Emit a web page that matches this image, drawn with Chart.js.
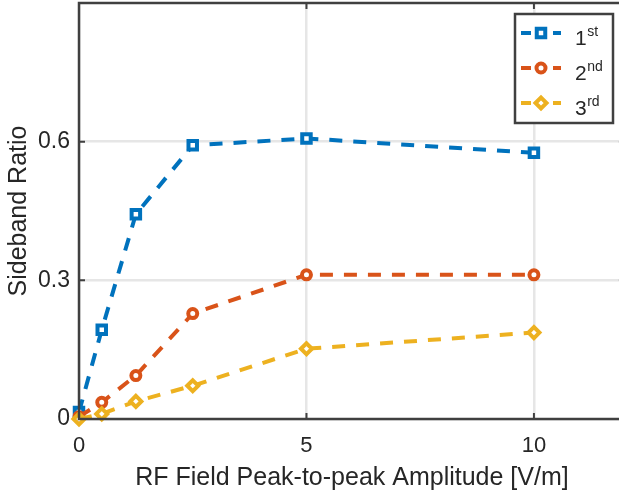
<!DOCTYPE html>
<html>
<head>
<meta charset="utf-8">
<script src="https://cdn.jsdelivr.net/npm/chart.js@4"></script>
<style>
  html, body { margin: 0; padding: 0; background: #fff; overflow: hidden; }
</style>
</head>
<body>
<canvas id="chart" width="619" height="495"></canvas>
<script>
// ===== DATA =====
const amplitudes = [0, 0.5, 1.25, 2.5, 5, 10];
const firstOrder  = [0.015, 0.193, 0.443, 0.592, 0.607, 0.576];
const secondOrder = [0.005, 0.036, 0.094, 0.228, 0.312, 0.312];
const thirdOrder  = [0.000, 0.011, 0.038, 0.072, 0.152, 0.187];

const seriesNames = ['1', '2', '3'];
const seriesSups  = ['st', 'nd', 'rd'];
const xTicks = [0, 5, 10];
const yTicks = [0, 0.3, 0.6];

const xTitle = 'RF Field Peak-to-peak Amplitude [V/m]';
const yTitle = 'Sideband Ratio';

// the axis runs to 12, the picture is cut just before it
const X_LIMIT = 12;
const X_VISIBLE = 11.87;

// ===== STYLE =====
const COLORS = ['#0072BD', '#D95319', '#EDB120'];
const POINT_STYLES = ['rect', 'circle', 'rectRot'];
const POINT_RADIUS = [6, 4.5, 5.5];
const AXIS = '#404040';
const TEXT = '#262626';
const GRID = '#e6e6e6';
const FONT = '"Liberation Sans", Arial, Helvetica, sans-serif';
const DASH = [13, 11];

function toPoints(ys) {
  return amplitudes.map((x, i) => ({ x, y: ys[i] }));
}

function makeSet(i, ys) {
  return {
    label: seriesNames[i] + seriesSups[i],
    data: toPoints(ys),
    borderColor: COLORS[i],
    borderWidth: 4,
    borderDash: DASH,
    pointStyle: POINT_STYLES[i],
    pointRadius: POINT_RADIUS[i],
    pointBorderWidth: 4,
    pointBorderColor: COLORS[i],
    pointBackgroundColor: '#fff',
    tension: 0,
    fill: false,
    clip: false,
    order: 3 - i,
  };
}

// ===== FRAME, INNER TICKS, TITLES, LEGEND =====
const framePlugin = {
  id: 'frame',
  afterDraw(chart) {
    const { ctx, chartArea: a, scales } = chart;
    ctx.save();
    // inward ticks on all sides
    ctx.strokeStyle = AXIS;
    ctx.lineWidth = 2;
    const tl = 6;
    xTicks.forEach(v => {
      const px = scales.x.getPixelForValue(v);
      ctx.beginPath();
      ctx.moveTo(px, a.bottom); ctx.lineTo(px, a.bottom - tl);
      ctx.moveTo(px, a.top); ctx.lineTo(px, a.top + tl);
      ctx.stroke();
    });
    const xEnd = scales.x.getPixelForValue(X_LIMIT);
    yTicks.forEach(v => {
      const py = scales.y.getPixelForValue(v);
      ctx.beginPath();
      ctx.moveTo(a.left, py); ctx.lineTo(a.left + tl, py);
      ctx.moveTo(xEnd, py); ctx.lineTo(xEnd - tl, py);
      ctx.stroke();
    });
    // box
    ctx.lineWidth = 2.5;
    ctx.strokeRect(a.left, a.top, xEnd - a.left, a.bottom - a.top);

    // x title
    ctx.fillStyle = TEXT;
    ctx.textAlign = 'center';
    ctx.textBaseline = 'alphabetic';
    ctx.font = '25px ' + FONT;
    ctx.fillText(xTitle, (a.left + xEnd) / 2, 485);

    // y title
    ctx.translate(26, (a.top + a.bottom) / 2);
    ctx.rotate(-Math.PI / 2);
    ctx.fillText(yTitle, 0, 0);
    ctx.restore();

    // legend
    ctx.save();
    const lx = 515, ly = 14, lw = 98, lh = 109;
    ctx.fillStyle = '#fff';
    ctx.fillRect(lx, ly, lw, lh);
    ctx.strokeStyle = AXIS;
    ctx.lineWidth = 2.5;
    ctx.strokeRect(lx, ly, lw, lh);
    chart.data.datasets.forEach((ds, i) => {
      const ry = 33 + i * 35;
      ctx.strokeStyle = ds.borderColor;
      ctx.lineWidth = ds.borderWidth;
      ctx.setLineDash([10, 6]);
      ctx.beginPath();
      ctx.moveTo(521, ry); ctx.lineTo(561, ry);
      ctx.stroke();
      ctx.setLineDash([]);
      ctx.fillStyle = '#fff';
      ctx.lineWidth = ds.pointBorderWidth;
      Chart.helpers.drawPoint(ctx, {
        pointStyle: ds.pointStyle, radius: ds.pointRadius,
        borderWidth: ds.pointBorderWidth, rotation: 0,
      }, 541, ry);
      ctx.fillStyle = TEXT;
      ctx.textAlign = 'left';
      ctx.textBaseline = 'alphabetic';
      ctx.font = '21px ' + FONT;
      ctx.fillText(seriesNames[i], 575, ry + 12);
      const w = ctx.measureText(seriesNames[i]).width;
      ctx.font = '14px ' + FONT;
      ctx.fillText(seriesSups[i], 575 + w + 0.5, ry + 3);
    });
    ctx.restore();
  }
};

function noPad(s) {
  s.paddingTop = 0; s.paddingBottom = 0; s.paddingLeft = 0; s.paddingRight = 0;
}

const ctx = document.getElementById('chart').getContext('2d');
new Chart(ctx, {
  type: 'line',
  data: {
    datasets: [
      makeSet(0, firstOrder),
      makeSet(1, secondOrder),
      makeSet(2, thirdOrder),
    ]
  },
  options: {
    responsive: false,
    animation: false,
    layout: { autoPadding: false, padding: { top: 3, right: 0, left: 0, bottom: 0 } },
    plugins: { legend: { display: false }, tooltip: { enabled: false } },
    scales: {
      x: {
        type: 'linear',
        min: 0, max: X_VISIBLE,
        afterBuildTicks: s => { s.ticks = xTicks.map(v => ({ value: v })); },
        afterFit: s => { s.height = 76; noPad(s); },
        ticks: { color: TEXT, font: { family: FONT, size: 22 }, padding: 14, maxRotation: 0 },
        grid: { color: GRID, lineWidth: 2.5, drawTicks: false },
        border: { display: false },
      },
      y: {
        type: 'linear',
        min: 0, max: 0.9,
        afterBuildTicks: s => { s.ticks = yTicks.map(v => ({ value: v })); },
        afterFit: s => { s.width = 79; noPad(s); },
        ticks: { color: TEXT, font: { family: FONT, size: 23 }, padding: 9, callback: v => v === 0 ? '0' : v.toFixed(1) },
        grid: { color: GRID, lineWidth: 2.5, drawTicks: false },
        border: { display: false },
      }
    }
  },
  plugins: [framePlugin]
});
</script>
</body>
</html>
